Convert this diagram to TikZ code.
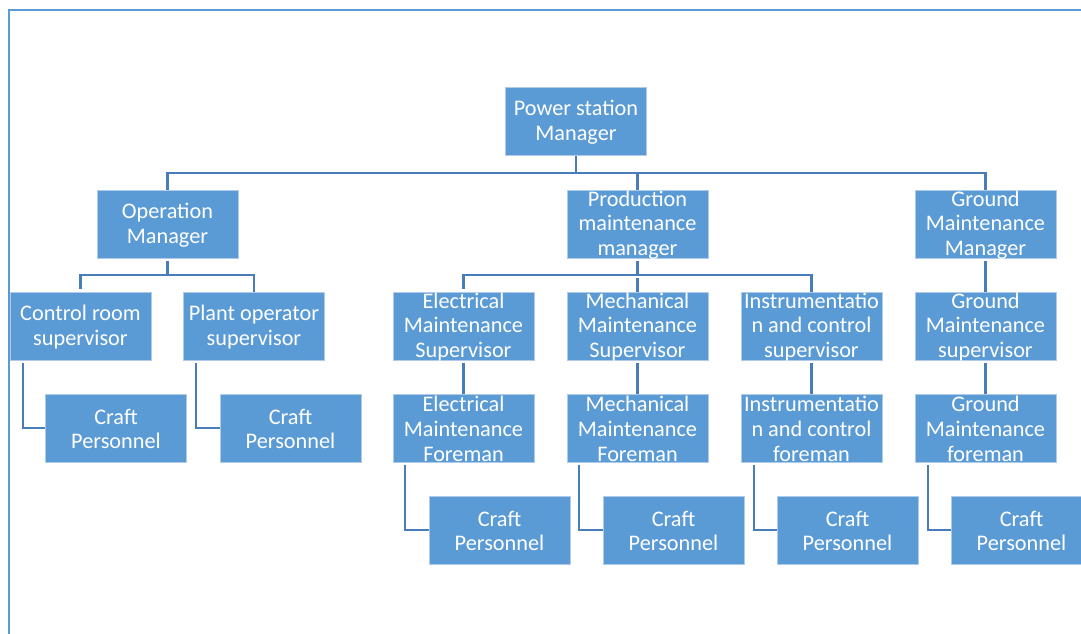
\documentclass[tikz,border=0pt]{standalone}
\usepackage{fontspec}
\setmainfont{Carlito}
\usetikzlibrary{calc}

\definecolor{boxfill}{RGB}{91,155,213}
\definecolor{boxedge}{RGB}{175,203,233}
\definecolor{linkblue}{RGB}{72,125,185}
\definecolor{framecol}{RGB}{91,155,213}

\tikzset{
  orgbox/.style={rectangle, fill=boxfill, draw=boxedge, line width=0.6pt,
    minimum width=105.75pt, minimum height=51pt, inner sep=0pt},
  orgtext/.style={text=white, align=center, inner sep=0pt, yshift=-0.75pt,
    font=\fontsize{16.7pt}{18.6pt}\selectfont},
  link/.style={draw=linkblue, line width=1.6pt},
  frameline/.style={draw=framecol, line width=2pt},
}

% box with its label set on top, so long labels may run past the box edge
\newcommand\orgnode[3]{%
  \node[orgbox] (#1) at (#2) {};
  \node[orgtext] (#1-t) at (#1.center) {#3};}

\begin{document}
\begin{tikzpicture}[x=0.75pt, y=-0.75pt]
  \clip (0,0) rectangle (1081,634);

  % page frame
  \draw[frameline] (9,640) -- (9,10) -- (1090,10);

  % bus points
  \coordinate (bus1) at (576,173);
  \coordinate (bus2) at (167.5,275);
  \coordinate (bus3) at (637.5,275);

  % connectors
  \begin{scope}[link]
    \draw (576,155) -- (bus1);
    \draw (167.5,190) |- (bus1) -| (985.5,190);
    \draw (637.5,190) -- (637.5,173);
  \end{scope}

  % top level
  \orgnode{psm}{576,121.5}{Power station\\Manager}

  % managers
  \orgnode{om}{167.5,224}{Operation\\Manager}
  \orgnode{pm}{637.5,224}{Production\\maintenance\\manager}
  \orgnode{gm}{985.5,224}{Ground\\Maintenance\\Manager}

  % supervisors
  \orgnode{cr}{80.5,326}{Control room\\supervisor}
  \orgnode{po}{254,326}{Plant operator\\supervisor}
  \orgnode{es}{463.5,326}{Electrical\\Maintenance\\Supervisor}
  \orgnode{ms}{637.5,326}{Mechanical\\Maintenance\\Supervisor}
  \orgnode{is}{811.5,326}{Instrumentatio\\n and control\\supervisor}
  \orgnode{gs}{985.5,326}{Ground\\Maintenance\\supervisor}

  % foremen and operations craft personnel
  \orgnode{ca}{116,428}{Craft\\Personnel}
  \orgnode{cb}{290.5,428}{Craft\\Personnel}
  \orgnode{ef}{463.5,428}{Electrical\\Maintenance\\Foreman}
  \orgnode{mf}{637.5,428}{Mechanical\\Maintenance\\Foreman}
  \orgnode{if}{811.5,428}{Instrumentatio\\n and control\\foreman}
  \orgnode{gf}{985.5,428}{Ground\\Maintenance\\foreman}

  % maintenance craft personnel
  \orgnode{ce}{499.5,530}{Craft\\Personnel}
  \orgnode{cm}{673.5,530}{Craft\\Personnel}
  \orgnode{ci}{847.5,530}{Craft\\Personnel}
  \orgnode{cg}{1021.5,530}{Craft\\Personnel}

  \begin{scope}[link, shorten <=2pt]
    % operation branch
    \draw (om.south) -- (bus2);
    \draw (cr.north) |- (bus2) -| (po.north);
    \draw ($(cr.south west)+(13,0)$) |- (ca.west);
    \draw ($(po.south west)+(13,0)$) |- (cb.west);

    % production branch
    \draw (pm.south) -- (bus3);
    \draw (bus3) -- (ms.north);
    \draw (es.north) |- (bus3) -| (is.north);
    \draw (es.south) -- (ef.north);
    \draw (ms.south) -- (mf.north);
    \draw (is.south) -- (if.north);
    \draw ($(ef.south west)+(12,0)$) |- (ce.west);
    \draw ($(mf.south west)+(12,0)$) |- (cm.west);
    \draw ($(if.south west)+(13,0)$) |- (ci.west);

    % ground branch
    \draw (gm.south) -- (gs.north);
    \draw (gs.south) -- (gf.north);
    \draw ($(gf.south west)+(13,0)$) |- (cg.west);
  \end{scope}
\end{tikzpicture}
\end{document}
